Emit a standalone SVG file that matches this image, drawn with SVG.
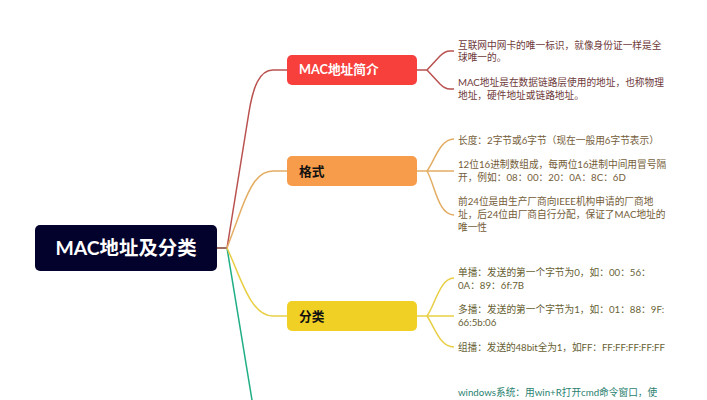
<svg xmlns="http://www.w3.org/2000/svg" width="707" height="400" viewBox="0 0 707 400">
<style>
text{font-family:"Lato","Noto Sans CJK SC",sans-serif}
.c{fill:none;stroke-width:1.5}
.r{stroke:#b9514f}.o{stroke:#e3ad63}.y{stroke:#e8cf45}.g{stroke:#1fae85}
.t{font-size:9.7px}
.tr{fill:#6e3a3a}.to{fill:#745c38}.ty{fill:#675f34}.tg{fill:#2a7f70}
.b{font-size:12.7px;font-weight:700}
</style>
<rect width="707" height="400" fill="#fff"/>
<g id="connectors">
<path class="c g" d="M217 248H227L252 400"/>
<path class="c r" d="M217 248H227L249 112C253 88 259 70 273 70H287"/>
<path class="c o" d="M227 248L241 210C250 186 258 171 273 171H287"/>
<path class="c y" d="M227 248C240 275 250 316 273 316H287"/>
<path class="c r" d="M417 70H427L440 56Q445 51 450 51H454"/>
<path class="c r" d="M427 70L440 84Q445 89 450 89H454"/>
<path class="c o" d="M417 171H427C435 160 440 139 454 139"/>
<path class="c o" d="M427 171H454"/>
<path class="c o" d="M427 171C435 185 438 215 454 215"/>
<path class="c y" d="M417 316H427C435 305 440 278 454 278"/>
<path class="c y" d="M427 316H454"/>
<path class="c y" d="M427 316C435 328 440 347 454 347"/>
</g>
<g id="root"><rect x="35" y="225" width="182" height="46" rx="5" fill="#03022c"/>
<text x="126" y="255" text-anchor="middle" font-size="19.4" font-weight="700" fill="#fff">MAC地址及分类</text></g>
<g id="n1"><rect x="287" y="55" width="130" height="30" rx="5" fill="#f73f3c"/>
<text class="b" x="299" y="74" fill="#fff">MAC地址简介</text></g>
<g id="n2"><rect x="287" y="156" width="130" height="30" rx="5" fill="#f79c4b"/>
<text class="b" x="299" y="176" fill="#111">格式</text></g>
<g id="n3"><rect x="287" y="301" width="130" height="30" rx="5" fill="#f0d024"/>
<text class="b" x="299" y="321" fill="#111">分类</text></g>
<g id="d1" class="t tr"><text x="458" y="49">互联网中网卡的唯一标识，就像身份证一样是全</text><text x="458" y="61">球唯一的。</text></g>
<g id="d2" class="t tr"><text x="458" y="86">MAC地址是在数据链路层使用的地址，也称物理</text><text x="458" y="99">地址，硬件地址或链路地址。</text></g>
<g id="d3" class="t to"><text x="458" y="144">长度：2字节或6字节（现在一般用6字节表示）</text></g>
<g id="d4" class="t to"><text x="458" y="168">12位16进制数组成，每两位16进制中间用冒号隔</text><text x="458" y="181">开，例如：08：00：20：0A：8C：6D</text></g>
<g id="d5" class="t to"><text x="458" y="205">前24位是由生产厂商向IEEE机构申请的厂商地</text><text x="458" y="218">址，后24位由厂商自行分配，保证了MAC地址的</text><text x="458" y="231">唯一性</text></g>
<g id="d6" class="t ty"><text x="458" y="276">单播：发送的第一个字节为0，如：00：56：</text><text x="458" y="289">0A：89：6f:7B</text></g>
<g id="d7" class="t ty"><text x="458" y="313">多播：发送的第一个字节为1，如：01：88：9F:</text><text x="458" y="326">66:5b:06</text></g>
<g id="d8" class="t ty"><text x="458" y="351" textLength="207">组播：发送的48bit全为1，如FF：FF:FF:FF:FF:FF</text></g>
<g id="d9" class="t tg"><text x="458" y="396">windows系统：用win+R打开cmd命令窗口，使</text></g>
</svg>
